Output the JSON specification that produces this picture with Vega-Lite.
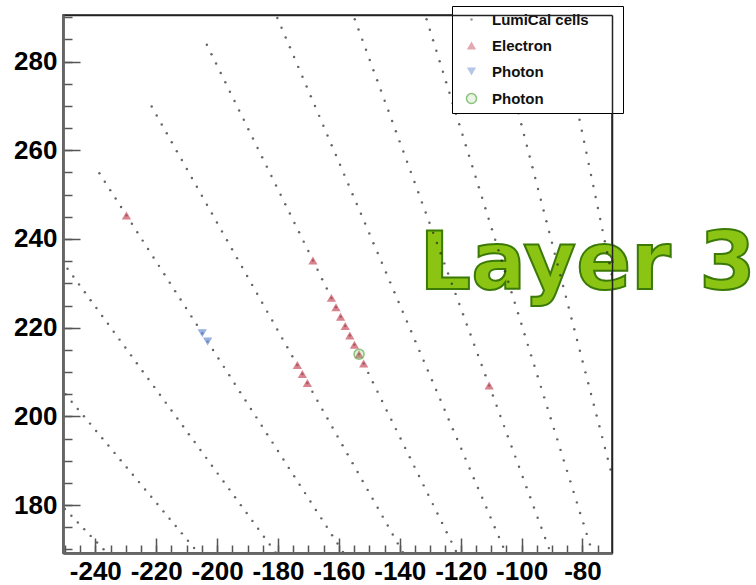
{
"$schema": "https://vega.github.io/schema/vega-lite/v6.json",
"width": 549, "height": 538,
"autosize": {"type": "none"},
"padding": {"left": 63, "top": 15, "right": 144, "bottom": 32},
"background": "white",
"config": {"font": "Liberation Sans", "view": {"stroke": "#222222", "strokeWidth": 1.5}},
"datasets": {
"label": [{"x": -133.5, "y": 228.7, "text": "Layer 3"}],
"hits": [
{"x":-229.76,"y":245.32,"t":"e"},{"x":-168.52,"y":235.17,"t":"e"},{"x":-173.64,"y":211.57,"t":"e"},{"x":-171.99,"y":209.56,"t":"e"},{"x":-170.34,"y":207.55,"t":"e"},
{"x":-162.46,"y":226.72,"t":"e"},{"x":-160.95,"y":224.60,"t":"e"},{"x":-159.43,"y":222.49,"t":"e"},{"x":-157.92,"y":220.38,"t":"e"},{"x":-156.40,"y":218.26,"t":"e"},{"x":-154.89,"y":216.15,"t":"e"},{"x":-153.37,"y":214.03,"t":"e"},{"x":-151.86,"y":211.92,"t":"e"},{"x":-110.64,"y":206.98,"t":"e"},
{"x":-204.87,"y":218.76,"t":"p"},{"x":-203.10,"y":216.86,"t":"p"},
{"x":-153.37,"y":214.03,"t":"g"}
],
"cells": [
{"x":-249.97,"y":179.12,"t":"c"},{"x":-247.85,"y":177.60,"t":"c"},{"x":-245.74,"y":176.09,"t":"c"},{"x":-243.63,"y":174.58,"t":"c"},{"x":-241.51,"y":173.06,"t":"c"},{"x":-239.40,"y":171.55,"t":"c"},{"x":-237.29,"y":170.03,"t":"c"},
{"x":-249.76,"y":204.97,"t":"c"},{"x":-247.75,"y":203.32,"t":"c"},{"x":-245.74,"y":201.67,"t":"c"},{"x":-243.73,"y":200.02,"t":"c"},{"x":-241.72,"y":198.37,"t":"c"},{"x":-239.71,"y":196.72,"t":"c"},{"x":-237.70,"y":195.07,"t":"c"},{"x":-235.69,"y":193.42,"t":"c"},{"x":-233.68,"y":191.77,"t":"c"},{"x":-231.67,"y":190.12,"t":"c"},{"x":-229.66,"y":188.48,"t":"c"},{"x":-227.65,"y":186.83,"t":"c"},{"x":-225.64,"y":185.18,"t":"c"},{"x":-223.63,"y":183.53,"t":"c"},{"x":-221.62,"y":181.88,"t":"c"},{"x":-219.61,"y":180.23,"t":"c"},{"x":-217.60,"y":178.58,"t":"c"},{"x":-215.59,"y":176.93,"t":"c"},{"x":-213.58,"y":175.28,"t":"c"},{"x":-211.57,"y":173.63,"t":"c"},{"x":-209.56,"y":171.98,"t":"c"},{"x":-207.55,"y":170.33,"t":"c"},
{"x":-249.12,"y":233.31,"t":"c"},{"x":-247.22,"y":231.53,"t":"c"},{"x":-245.32,"y":229.76,"t":"c"},{"x":-243.43,"y":227.98,"t":"c"},{"x":-241.53,"y":226.20,"t":"c"},{"x":-239.63,"y":224.42,"t":"c"},{"x":-237.73,"y":222.65,"t":"c"},{"x":-235.84,"y":220.87,"t":"c"},{"x":-233.94,"y":219.09,"t":"c"},{"x":-232.04,"y":217.31,"t":"c"},{"x":-230.14,"y":215.54,"t":"c"},{"x":-228.24,"y":213.76,"t":"c"},{"x":-226.35,"y":211.98,"t":"c"},{"x":-224.45,"y":210.20,"t":"c"},{"x":-222.55,"y":208.43,"t":"c"},{"x":-220.65,"y":206.65,"t":"c"},{"x":-218.76,"y":204.87,"t":"c"},{"x":-216.86,"y":203.10,"t":"c"},{"x":-214.96,"y":201.32,"t":"c"},{"x":-213.06,"y":199.54,"t":"c"},{"x":-211.17,"y":197.76,"t":"c"},{"x":-209.27,"y":195.99,"t":"c"},{"x":-207.37,"y":194.21,"t":"c"},{"x":-205.47,"y":192.43,"t":"c"},{"x":-203.57,"y":190.65,"t":"c"},{"x":-201.68,"y":188.88,"t":"c"},{"x":-199.78,"y":187.10,"t":"c"},{"x":-197.88,"y":185.32,"t":"c"},{"x":-195.98,"y":183.55,"t":"c"},{"x":-194.09,"y":181.77,"t":"c"},{"x":-192.19,"y":179.99,"t":"c"},{"x":-190.29,"y":178.21,"t":"c"},{"x":-188.39,"y":176.44,"t":"c"},{"x":-186.50,"y":174.66,"t":"c"},{"x":-184.60,"y":172.88,"t":"c"},{"x":-182.70,"y":171.10,"t":"c"},{"x":-180.80,"y":169.33,"t":"c"},
{"x":-238.64,"y":254.81,"t":"c"},{"x":-236.86,"y":252.91,"t":"c"},{"x":-235.09,"y":251.01,"t":"c"},{"x":-233.31,"y":249.12,"t":"c"},{"x":-231.53,"y":247.22,"t":"c"},{"x":-229.76,"y":245.32,"t":"c"},{"x":-227.98,"y":243.43,"t":"c"},{"x":-226.20,"y":241.53,"t":"c"},{"x":-224.42,"y":239.63,"t":"c"},{"x":-222.65,"y":237.73,"t":"c"},{"x":-220.87,"y":235.84,"t":"c"},{"x":-219.09,"y":233.94,"t":"c"},{"x":-217.31,"y":232.04,"t":"c"},{"x":-215.54,"y":230.14,"t":"c"},{"x":-213.76,"y":228.24,"t":"c"},{"x":-211.98,"y":226.35,"t":"c"},{"x":-210.20,"y":224.45,"t":"c"},{"x":-208.43,"y":222.55,"t":"c"},{"x":-206.65,"y":220.65,"t":"c"},{"x":-204.87,"y":218.76,"t":"c"},{"x":-203.10,"y":216.86,"t":"c"},{"x":-201.32,"y":214.96,"t":"c"},{"x":-199.54,"y":213.06,"t":"c"},{"x":-197.76,"y":211.17,"t":"c"},{"x":-195.99,"y":209.27,"t":"c"},{"x":-194.21,"y":207.37,"t":"c"},{"x":-192.43,"y":205.47,"t":"c"},{"x":-190.65,"y":203.57,"t":"c"},{"x":-188.88,"y":201.68,"t":"c"},{"x":-187.10,"y":199.78,"t":"c"},{"x":-185.32,"y":197.88,"t":"c"},{"x":-183.55,"y":195.98,"t":"c"},{"x":-181.77,"y":194.09,"t":"c"},{"x":-179.99,"y":192.19,"t":"c"},{"x":-178.21,"y":190.29,"t":"c"},{"x":-176.44,"y":188.39,"t":"c"},{"x":-174.66,"y":186.50,"t":"c"},{"x":-172.88,"y":184.60,"t":"c"},{"x":-171.10,"y":182.70,"t":"c"},{"x":-169.33,"y":180.80,"t":"c"},{"x":-167.55,"y":178.91,"t":"c"},{"x":-165.77,"y":177.01,"t":"c"},{"x":-163.99,"y":175.11,"t":"c"},{"x":-162.22,"y":173.21,"t":"c"},{"x":-160.44,"y":171.32,"t":"c"},{"x":-158.66,"y":169.42,"t":"c"},
{"x":-221.47,"y":269.85,"t":"c"},{"x":-219.82,"y":267.84,"t":"c"},{"x":-218.17,"y":265.83,"t":"c"},{"x":-216.52,"y":263.82,"t":"c"},{"x":-214.87,"y":261.81,"t":"c"},{"x":-213.22,"y":259.80,"t":"c"},{"x":-211.57,"y":257.79,"t":"c"},{"x":-209.92,"y":255.78,"t":"c"},{"x":-208.27,"y":253.77,"t":"c"},{"x":-206.63,"y":251.76,"t":"c"},{"x":-204.98,"y":249.75,"t":"c"},{"x":-203.33,"y":247.74,"t":"c"},{"x":-201.68,"y":245.73,"t":"c"},{"x":-200.03,"y":243.72,"t":"c"},{"x":-198.38,"y":241.71,"t":"c"},{"x":-196.73,"y":239.70,"t":"c"},{"x":-195.08,"y":237.69,"t":"c"},{"x":-193.43,"y":235.68,"t":"c"},{"x":-191.78,"y":233.67,"t":"c"},{"x":-190.13,"y":231.66,"t":"c"},{"x":-188.48,"y":229.65,"t":"c"},{"x":-186.83,"y":227.64,"t":"c"},{"x":-185.18,"y":225.63,"t":"c"},{"x":-183.53,"y":223.62,"t":"c"},{"x":-181.88,"y":221.61,"t":"c"},{"x":-180.24,"y":219.60,"t":"c"},{"x":-178.59,"y":217.59,"t":"c"},{"x":-176.94,"y":215.58,"t":"c"},{"x":-175.29,"y":213.57,"t":"c"},{"x":-173.64,"y":211.57,"t":"c"},{"x":-171.99,"y":209.56,"t":"c"},{"x":-170.34,"y":207.55,"t":"c"},{"x":-168.69,"y":205.54,"t":"c"},{"x":-167.04,"y":203.53,"t":"c"},{"x":-165.39,"y":201.52,"t":"c"},{"x":-163.74,"y":199.51,"t":"c"},{"x":-162.09,"y":197.50,"t":"c"},{"x":-160.44,"y":195.49,"t":"c"},{"x":-158.79,"y":193.48,"t":"c"},{"x":-157.14,"y":191.47,"t":"c"},{"x":-155.49,"y":189.46,"t":"c"},{"x":-153.84,"y":187.45,"t":"c"},{"x":-152.20,"y":185.44,"t":"c"},{"x":-150.55,"y":183.43,"t":"c"},{"x":-148.90,"y":181.42,"t":"c"},{"x":-147.25,"y":179.41,"t":"c"},{"x":-145.60,"y":177.40,"t":"c"},{"x":-143.95,"y":175.39,"t":"c"},{"x":-142.30,"y":173.38,"t":"c"},{"x":-140.65,"y":171.37,"t":"c"},{"x":-139.00,"y":169.36,"t":"c"},
{"x":-203.35,"y":283.78,"t":"c"},{"x":-201.84,"y":281.67,"t":"c"},{"x":-200.32,"y":279.55,"t":"c"},{"x":-198.81,"y":277.44,"t":"c"},{"x":-197.29,"y":275.33,"t":"c"},{"x":-195.78,"y":273.21,"t":"c"},{"x":-194.26,"y":271.10,"t":"c"},{"x":-192.75,"y":268.99,"t":"c"},{"x":-191.23,"y":266.87,"t":"c"},{"x":-189.72,"y":264.76,"t":"c"},{"x":-188.21,"y":262.65,"t":"c"},{"x":-186.69,"y":260.53,"t":"c"},{"x":-185.18,"y":258.42,"t":"c"},{"x":-183.66,"y":256.31,"t":"c"},{"x":-182.15,"y":254.19,"t":"c"},{"x":-180.63,"y":252.08,"t":"c"},{"x":-179.12,"y":249.97,"t":"c"},{"x":-177.60,"y":247.85,"t":"c"},{"x":-176.09,"y":245.74,"t":"c"},{"x":-174.58,"y":243.62,"t":"c"},{"x":-173.06,"y":241.51,"t":"c"},{"x":-171.55,"y":239.40,"t":"c"},{"x":-170.03,"y":237.28,"t":"c"},{"x":-168.52,"y":235.17,"t":"c"},{"x":-167.00,"y":233.06,"t":"c"},{"x":-165.49,"y":230.94,"t":"c"},{"x":-163.97,"y":228.83,"t":"c"},{"x":-162.46,"y":226.72,"t":"c"},{"x":-160.95,"y":224.60,"t":"c"},{"x":-159.43,"y":222.49,"t":"c"},{"x":-157.92,"y":220.38,"t":"c"},{"x":-156.40,"y":218.26,"t":"c"},{"x":-154.89,"y":216.15,"t":"c"},{"x":-153.37,"y":214.03,"t":"c"},{"x":-151.86,"y":211.92,"t":"c"},{"x":-150.34,"y":209.81,"t":"c"},{"x":-148.83,"y":207.69,"t":"c"},{"x":-147.31,"y":205.58,"t":"c"},{"x":-145.80,"y":203.47,"t":"c"},{"x":-144.29,"y":201.35,"t":"c"},{"x":-142.77,"y":199.24,"t":"c"},{"x":-141.26,"y":197.13,"t":"c"},{"x":-139.74,"y":195.01,"t":"c"},{"x":-138.23,"y":192.90,"t":"c"},{"x":-136.71,"y":190.79,"t":"c"},{"x":-135.20,"y":188.67,"t":"c"},{"x":-133.68,"y":186.56,"t":"c"},{"x":-132.17,"y":184.45,"t":"c"},{"x":-130.65,"y":182.33,"t":"c"},{"x":-129.14,"y":180.22,"t":"c"},{"x":-127.63,"y":178.11,"t":"c"},{"x":-126.11,"y":175.99,"t":"c"},{"x":-124.60,"y":173.88,"t":"c"},{"x":-123.08,"y":171.77,"t":"c"},{"x":-121.57,"y":169.65,"t":"c"},
{"x":-180.20,"y":289.84,"t":"c"},{"x":-178.83,"y":287.63,"t":"c"},{"x":-177.46,"y":285.42,"t":"c"},{"x":-176.08,"y":283.21,"t":"c"},{"x":-174.71,"y":281.01,"t":"c"},{"x":-173.34,"y":278.80,"t":"c"},{"x":-171.96,"y":276.59,"t":"c"},{"x":-170.59,"y":274.38,"t":"c"},{"x":-169.22,"y":272.17,"t":"c"},{"x":-167.85,"y":269.97,"t":"c"},{"x":-166.47,"y":267.76,"t":"c"},{"x":-165.10,"y":265.55,"t":"c"},{"x":-163.73,"y":263.34,"t":"c"},{"x":-162.36,"y":261.13,"t":"c"},{"x":-160.98,"y":258.93,"t":"c"},{"x":-159.61,"y":256.72,"t":"c"},{"x":-158.24,"y":254.51,"t":"c"},{"x":-156.86,"y":252.30,"t":"c"},{"x":-155.49,"y":250.09,"t":"c"},{"x":-154.12,"y":247.89,"t":"c"},{"x":-152.75,"y":245.68,"t":"c"},{"x":-151.37,"y":243.47,"t":"c"},{"x":-150.00,"y":241.26,"t":"c"},{"x":-148.63,"y":239.05,"t":"c"},{"x":-147.25,"y":236.85,"t":"c"},{"x":-145.88,"y":234.64,"t":"c"},{"x":-144.51,"y":232.43,"t":"c"},{"x":-143.14,"y":230.22,"t":"c"},{"x":-141.76,"y":228.01,"t":"c"},{"x":-140.39,"y":225.81,"t":"c"},{"x":-139.02,"y":223.60,"t":"c"},{"x":-137.64,"y":221.39,"t":"c"},{"x":-136.27,"y":219.18,"t":"c"},{"x":-134.90,"y":216.97,"t":"c"},{"x":-133.53,"y":214.77,"t":"c"},{"x":-132.15,"y":212.56,"t":"c"},{"x":-130.78,"y":210.35,"t":"c"},{"x":-129.41,"y":208.14,"t":"c"},{"x":-128.04,"y":205.94,"t":"c"},{"x":-126.66,"y":203.73,"t":"c"},{"x":-125.29,"y":201.52,"t":"c"},{"x":-123.92,"y":199.31,"t":"c"},{"x":-122.54,"y":197.10,"t":"c"},{"x":-121.17,"y":194.90,"t":"c"},{"x":-119.80,"y":192.69,"t":"c"},{"x":-118.43,"y":190.48,"t":"c"},{"x":-117.05,"y":188.27,"t":"c"},{"x":-115.68,"y":186.06,"t":"c"},{"x":-114.31,"y":183.86,"t":"c"},{"x":-112.93,"y":181.65,"t":"c"},{"x":-111.56,"y":179.44,"t":"c"},{"x":-110.19,"y":177.23,"t":"c"},{"x":-108.82,"y":175.02,"t":"c"},{"x":-107.44,"y":172.82,"t":"c"},{"x":-106.07,"y":170.61,"t":"c"},
{"x":-154.77,"y":289.53,"t":"c"},{"x":-153.54,"y":287.23,"t":"c"},{"x":-152.31,"y":284.94,"t":"c"},{"x":-151.09,"y":282.65,"t":"c"},{"x":-149.86,"y":280.36,"t":"c"},{"x":-148.64,"y":278.06,"t":"c"},{"x":-147.41,"y":275.77,"t":"c"},{"x":-146.19,"y":273.48,"t":"c"},{"x":-144.96,"y":271.18,"t":"c"},{"x":-143.74,"y":268.89,"t":"c"},{"x":-142.51,"y":266.60,"t":"c"},{"x":-141.28,"y":264.31,"t":"c"},{"x":-140.06,"y":262.01,"t":"c"},{"x":-138.83,"y":259.72,"t":"c"},{"x":-137.61,"y":257.43,"t":"c"},{"x":-136.38,"y":255.13,"t":"c"},{"x":-135.16,"y":252.84,"t":"c"},{"x":-133.93,"y":250.55,"t":"c"},{"x":-132.71,"y":248.25,"t":"c"},{"x":-131.48,"y":245.96,"t":"c"},{"x":-130.25,"y":243.67,"t":"c"},{"x":-129.03,"y":241.38,"t":"c"},{"x":-127.80,"y":239.08,"t":"c"},{"x":-126.58,"y":236.79,"t":"c"},{"x":-125.35,"y":234.50,"t":"c"},{"x":-124.13,"y":232.20,"t":"c"},{"x":-122.90,"y":229.91,"t":"c"},{"x":-121.67,"y":227.62,"t":"c"},{"x":-120.45,"y":225.33,"t":"c"},{"x":-119.22,"y":223.03,"t":"c"},{"x":-118.00,"y":220.74,"t":"c"},{"x":-116.77,"y":218.45,"t":"c"},{"x":-115.55,"y":216.15,"t":"c"},{"x":-114.32,"y":213.86,"t":"c"},{"x":-113.10,"y":211.57,"t":"c"},{"x":-111.87,"y":209.28,"t":"c"},{"x":-110.64,"y":206.98,"t":"c"},{"x":-109.42,"y":204.69,"t":"c"},{"x":-108.19,"y":202.40,"t":"c"},{"x":-106.97,"y":200.10,"t":"c"},{"x":-105.74,"y":197.81,"t":"c"},{"x":-104.52,"y":195.52,"t":"c"},{"x":-103.29,"y":193.23,"t":"c"},{"x":-102.07,"y":190.93,"t":"c"},{"x":-100.84,"y":188.64,"t":"c"},{"x":-99.61,"y":186.35,"t":"c"},{"x":-98.39,"y":184.05,"t":"c"},{"x":-97.16,"y":181.76,"t":"c"},{"x":-95.94,"y":179.47,"t":"c"},{"x":-94.71,"y":177.17,"t":"c"},{"x":-93.49,"y":174.88,"t":"c"},{"x":-92.26,"y":172.59,"t":"c"},{"x":-91.03,"y":170.30,"t":"c"},
{"x":-131.19,"y":289.54,"t":"c"},{"x":-130.12,"y":287.17,"t":"c"},{"x":-129.05,"y":284.81,"t":"c"},{"x":-127.98,"y":282.44,"t":"c"},{"x":-126.90,"y":280.07,"t":"c"},{"x":-125.83,"y":277.70,"t":"c"},{"x":-124.76,"y":275.33,"t":"c"},{"x":-123.68,"y":272.97,"t":"c"},{"x":-122.61,"y":270.60,"t":"c"},{"x":-121.54,"y":268.23,"t":"c"},{"x":-120.47,"y":265.86,"t":"c"},{"x":-119.39,"y":263.49,"t":"c"},{"x":-118.32,"y":261.13,"t":"c"},{"x":-117.25,"y":258.76,"t":"c"},{"x":-116.17,"y":256.39,"t":"c"},{"x":-115.10,"y":254.02,"t":"c"},{"x":-114.03,"y":251.65,"t":"c"},{"x":-112.96,"y":249.29,"t":"c"},{"x":-111.88,"y":246.92,"t":"c"},{"x":-110.81,"y":244.55,"t":"c"},{"x":-109.74,"y":242.18,"t":"c"},{"x":-108.66,"y":239.81,"t":"c"},{"x":-107.59,"y":237.44,"t":"c"},{"x":-106.52,"y":235.08,"t":"c"},{"x":-105.45,"y":232.71,"t":"c"},{"x":-104.37,"y":230.34,"t":"c"},{"x":-103.30,"y":227.97,"t":"c"},{"x":-102.23,"y":225.60,"t":"c"},{"x":-101.15,"y":223.24,"t":"c"},{"x":-100.08,"y":220.87,"t":"c"},{"x":-99.01,"y":218.50,"t":"c"},{"x":-97.94,"y":216.13,"t":"c"},{"x":-96.86,"y":213.76,"t":"c"},{"x":-95.79,"y":211.40,"t":"c"},{"x":-94.72,"y":209.03,"t":"c"},{"x":-93.64,"y":206.66,"t":"c"},{"x":-92.57,"y":204.29,"t":"c"},{"x":-91.50,"y":201.92,"t":"c"},{"x":-90.42,"y":199.56,"t":"c"},{"x":-89.35,"y":197.19,"t":"c"},{"x":-88.28,"y":194.82,"t":"c"},{"x":-87.21,"y":192.45,"t":"c"},{"x":-86.13,"y":190.08,"t":"c"},{"x":-85.06,"y":187.72,"t":"c"},{"x":-83.99,"y":185.35,"t":"c"},{"x":-82.91,"y":182.98,"t":"c"},{"x":-81.84,"y":180.61,"t":"c"},{"x":-80.77,"y":178.24,"t":"c"},{"x":-79.69,"y":175.88,"t":"c"},{"x":-78.62,"y":173.51,"t":"c"},{"x":-77.55,"y":171.14,"t":"c"},
{"x":-109.25,"y":290.23,"t":"c"},{"x":-108.33,"y":287.80,"t":"c"},{"x":-107.42,"y":285.36,"t":"c"},{"x":-106.50,"y":282.93,"t":"c"},{"x":-105.59,"y":280.50,"t":"c"},{"x":-104.67,"y":278.06,"t":"c"},{"x":-103.75,"y":275.63,"t":"c"},{"x":-102.84,"y":273.19,"t":"c"},{"x":-101.92,"y":270.76,"t":"c"},{"x":-101.00,"y":268.33,"t":"c"},{"x":-100.09,"y":265.89,"t":"c"},{"x":-99.17,"y":263.46,"t":"c"},{"x":-98.26,"y":261.03,"t":"c"},{"x":-97.34,"y":258.59,"t":"c"},{"x":-96.42,"y":256.16,"t":"c"},{"x":-95.51,"y":253.73,"t":"c"},{"x":-94.59,"y":251.29,"t":"c"},{"x":-93.68,"y":248.86,"t":"c"},{"x":-92.76,"y":246.43,"t":"c"},{"x":-91.84,"y":243.99,"t":"c"},{"x":-90.93,"y":241.56,"t":"c"},{"x":-90.01,"y":239.13,"t":"c"},{"x":-89.10,"y":236.69,"t":"c"},{"x":-88.18,"y":234.26,"t":"c"},{"x":-87.26,"y":231.83,"t":"c"},{"x":-86.35,"y":229.39,"t":"c"},{"x":-85.43,"y":226.96,"t":"c"},{"x":-84.51,"y":224.53,"t":"c"},{"x":-83.60,"y":222.09,"t":"c"},{"x":-82.68,"y":219.66,"t":"c"},{"x":-81.77,"y":217.23,"t":"c"},{"x":-80.85,"y":214.79,"t":"c"},{"x":-79.94,"y":212.36,"t":"c"},{"x":-79.02,"y":209.93,"t":"c"},{"x":-78.10,"y":207.49,"t":"c"},{"x":-77.19,"y":205.06,"t":"c"},{"x":-76.27,"y":202.63,"t":"c"},{"x":-75.36,"y":200.19,"t":"c"},{"x":-74.44,"y":197.76,"t":"c"},{"x":-73.52,"y":195.33,"t":"c"},{"x":-72.61,"y":192.89,"t":"c"},{"x":-71.69,"y":190.46,"t":"c"},{"x":-70.78,"y":188.03,"t":"c"},
{"x":-87.75,"y":289.27,"t":"c"},{"x":-87.00,"y":286.78,"t":"c"},{"x":-86.24,"y":284.30,"t":"c"},{"x":-85.49,"y":281.81,"t":"c"},{"x":-84.73,"y":279.32,"t":"c"},{"x":-83.98,"y":276.83,"t":"c"},{"x":-83.23,"y":274.34,"t":"c"},{"x":-82.47,"y":271.86,"t":"c"},{"x":-81.72,"y":269.37,"t":"c"},{"x":-80.96,"y":266.88,"t":"c"},{"x":-80.21,"y":264.39,"t":"c"},{"x":-79.45,"y":261.90,"t":"c"},{"x":-78.70,"y":259.42,"t":"c"},{"x":-77.94,"y":256.93,"t":"c"},{"x":-77.19,"y":254.44,"t":"c"},{"x":-76.43,"y":251.95,"t":"c"},{"x":-75.68,"y":249.46,"t":"c"},{"x":-74.93,"y":246.98,"t":"c"},{"x":-74.17,"y":244.49,"t":"c"},{"x":-73.42,"y":242.00,"t":"c"},{"x":-72.66,"y":239.51,"t":"c"},{"x":-71.91,"y":237.02,"t":"c"},{"x":-71.15,"y":234.54,"t":"c"},{"x":-70.40,"y":232.05,"t":"c"}
]
},
"resolve": {"axis": {"x": "independent", "y": "independent"}},
"layer": [
{
"data": {"name": "label"},
"mark": {"type": "text", "align": "left", "baseline": "alphabetic", "font": "DejaVu Sans", "fontWeight": "bold", "fontSize": 81, "fill": "#8cc414", "stroke": "#3c7a08", "strokeWidth": 2},
"encoding": {
"x": {"field": "x", "type": "quantitative", "scale": {"domain": [-250.6, -70.3], "nice": false, "zero": false}, "axis": {"orient": "top", "labels": false, "ticks": false, "domain": true, "domainColor": "#222222", "domainWidth": 1.5, "grid": false, "title": null, "zindex": 1}},
"y": {"field": "y", "type": "quantitative", "scale": {"domain": [169.2, 290.5], "nice": false, "zero": false}, "axis": {"orient": "right", "labels": false, "ticks": false, "domain": true, "domainColor": "#222222", "domainWidth": 1.5, "grid": false, "title": null, "zindex": 1}},
"text": {"field": "text"}
}
},
{
"data": {"name": "cells"},
"mark": {"type": "point", "filled": true, "clip": true, "strokeWidth": 1.5},
"encoding": {
"x": {"field": "x", "type": "quantitative", "scale": {"domain": [-250.6, -70.3], "nice": false, "zero": false}, "axis": {"orient": "bottom", "values": [-250,-245,-240,-235,-230,-225,-220,-215,-210,-205,-200,-195,-190,-185,-180,-175,-170,-165,-160,-155,-150,-145,-140,-135,-130,-125,-120,-115,-110,-105,-100,-95,-90,-85,-80,-75], "labels": false, "tickSize": -8, "tickColor": "#555555", "tickWidth": 1.5, "domain": true, "domainColor": "#666666", "domainWidth": 2.5, "grid": false, "title": null, "zindex": 1}},
"y": {"field": "y", "type": "quantitative", "scale": {"domain": [169.2, 290.5], "nice": false, "zero": false}, "axis": {"orient": "left", "values": [170,175,180,185,190,195,200,205,210,215,220,225,230,235,240,245,250,255,260,265,270,275,280,285,290], "labels": false, "tickSize": -9, "tickColor": "#555555", "tickWidth": 1.5, "domain": true, "domainColor": "#666666", "domainWidth": 2.5, "grid": false, "title": null, "zindex": 1}},
"shape": {"field": "t", "type": "ordinal", "scale": {"domain": ["c","e","p","g"], "range": ["circle","triangle-up","triangle-down","circle"]},
  "legend": {"orient": "none", "legendX": 389, "legendY": -9, "title": "\u00a0", "titleOrient": "right", "titlePadding": 28, "titleFontSize": 10, "fillColor": "#ffffff", "strokeColor": "#000000", "padding": 6, "rowPadding": 10, "labelFont": "Liberation Sans", "labelFontWeight": "bold", "labelFontSize": 15, "labelColor": "#111111", "symbolOffset": 6, "labelOffset": 13, "labelExpr": "datum.value === 'c' ? 'LumiCal cells' : datum.value === 'e' ? 'Electron' : 'Photon'"}},
"fill": {"field": "t", "type": "ordinal", "scale": {"domain": ["c","e","p","g"], "range": ["#262626","#c8505f","#6a8fd3","rgba(120,190,90,0.3)"]}},
"stroke": {"field": "t", "type": "ordinal", "scale": {"domain": ["c","e","p","g"], "range": ["rgba(0,0,0,0)","rgba(0,0,0,0)","rgba(0,0,0,0)","#5aaa44"]}},
"size": {"field": "t", "type": "ordinal", "scale": {"type": "ordinal", "domain": ["c","e","p","g"], "range": [6,85,85,100]}}
}
},
{
"data": {"name": "hits"},
"mark": {"type": "point", "filled": true, "clip": true, "strokeWidth": 1.5},
"encoding": {
"x": {"field": "x", "type": "quantitative", "scale": {"domain": [-250.6, -70.3], "nice": false, "zero": false}, "axis": {"orient": "bottom", "values": [-240,-220,-200,-180,-160,-140,-120,-100,-80], "tickSize": -15, "tickColor": "#555555", "tickWidth": 1.5, "domain": true, "domainColor": "#666666", "domainWidth": 2.5, "grid": false, "title": null, "zindex": 1, "labelFont": "Liberation Sans", "labelFontWeight": "bold", "labelFontSize": 26, "labelColor": "#000000", "labelPadding": 20, "labelOverlap": false, "labelFlush": false, "labelExpr": "'-' + abs(datum.value)"}},
"y": {"field": "y", "type": "quantitative", "scale": {"domain": [169.2, 290.5], "nice": false, "zero": false}, "axis": {"orient": "left", "values": [180,200,220,240,260,280], "tickSize": -17, "tickColor": "#555555", "tickWidth": 1.5, "domain": true, "domainColor": "#666666", "domainWidth": 2.5, "grid": false, "title": null, "zindex": 1, "labelFont": "Liberation Sans", "labelFontWeight": "bold", "labelFontSize": 26, "labelColor": "#000000", "labelPadding": 23, "labelOverlap": false, "labelFlush": false}},
"shape": {"field": "t", "type": "ordinal", "scale": {"domain": ["c","e","p","g"], "range": ["circle","triangle-up","triangle-down","circle"]},
  "legend": {"orient": "none", "legendX": 389, "legendY": -9, "title": "\u00a0", "titleOrient": "right", "titlePadding": 28, "titleFontSize": 10, "fillColor": "#ffffff", "strokeColor": "#000000", "padding": 6, "rowPadding": 10, "labelFont": "Liberation Sans", "labelFontWeight": "bold", "labelFontSize": 15, "labelColor": "#111111", "symbolOffset": 6, "labelOffset": 13, "labelExpr": "datum.value === 'c' ? 'LumiCal cells' : datum.value === 'e' ? 'Electron' : 'Photon'"}},
"fill": {"field": "t", "type": "ordinal", "scale": {"domain": ["c","e","p","g"], "range": ["#262626","#c8505f","#6a8fd3","rgba(120,190,90,0.3)"]}},
"stroke": {"field": "t", "type": "ordinal", "scale": {"domain": ["c","e","p","g"], "range": ["rgba(0,0,0,0)","rgba(0,0,0,0)","rgba(0,0,0,0)","#5aaa44"]}},
"size": {"field": "t", "type": "ordinal", "scale": {"type": "ordinal", "domain": ["c","e","p","g"], "range": [6,85,85,100]}}
}
}
]
}
